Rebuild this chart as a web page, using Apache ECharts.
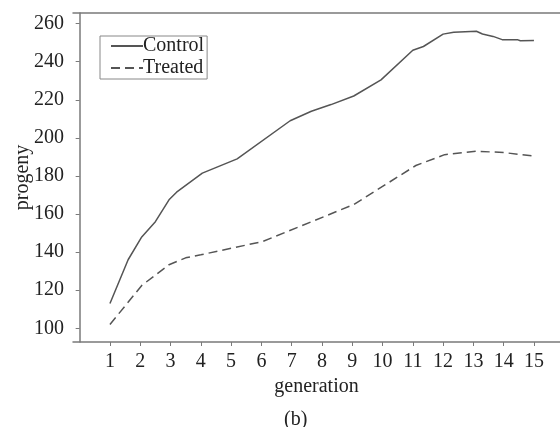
<!DOCTYPE html>
<html>
<head>
<meta charset="utf-8">
<script src="https://cdn.jsdelivr.net/npm/echarts@6/dist/echarts.min.js"></script>
<style>html,body{margin:0;padding:0;background:#fff}#c{width:560px;height:427px}</style>
</head>
<body>
<div id="c"></div>
<script>
// generation positions and progeny values
var controlX = [1.0, 1.6, 2.05, 2.5, 2.95, 3.2, 4.05, 5.2, 6.95, 7.65, 8.3, 9.05, 9.95, 11.0, 11.35, 12.0, 12.35, 13.1, 13.3, 13.65, 13.95, 14.45, 14.55, 15.0];
var controlY = [113, 136, 148, 156, 167.5, 171.5, 181.5, 189, 209, 214, 217.5, 222, 230.5, 246, 248, 254.5, 255.5, 256, 254.6, 253.3, 251.6, 251.6, 251, 251.1];
var treatedX = [1.0, 2.05, 2.95, 3.5, 4.0, 6.05, 9.05, 11.1, 12.05, 13.1, 14.0, 15.0];
var treatedY = [102, 122.5, 133.4, 137, 138.6, 145.6, 165, 185.5, 191.2, 193, 192.3, 190.5];
var xTicks = [1, 2, 3, 4, 5, 6, 7, 8, 9, 10, 11, 12, 13, 14, 15];
var yTicks = [100, 120, 140, 160, 180, 200, 220, 240, 260];
var seriesNames = ['Control', 'Treated'];

function pairs(xs, ys) { return xs.map(function (x, i) { return [x, ys[i]]; }); }

var FONT = 'Liberation Serif';
var TXT = '#222';
var AX = '#7a7a7a';

var chart = echarts.init(document.getElementById('c'), null, { renderer: 'canvas' });
chart.setOption({
  animation: false,
  backgroundColor: '#fff',
  title: {
    text: '(b)', left: 279, top: 405,
    textStyle: { fontFamily: FONT, fontSize: 20, fontWeight: 'normal', color: TXT }
  },
  legend: {
    orient: 'vertical', left: 100, top: 36,
    padding: [0, 3, 1, 10], itemGap: 2, itemWidth: 32, itemHeight: 14,
    borderColor: '#888', borderWidth: 1,
    itemStyle: { opacity: 0 },
    textStyle: { fontFamily: FONT, fontSize: 20, color: TXT, padding: [0, 0, 0, -5] },
    data: seriesNames
  },
  grid: { left: 73, right: 0, top: 13, bottom: 85, containLabel: false, outerBoundsMode: 'none' },
  xAxis: [{
    type: 'value', min: -0.22, max: 15.86,
    name: 'generation', nameLocation: 'middle', nameGap: 35, nameMoveOverlap: false,
    nameTextStyle: { fontFamily: FONT, fontSize: 20, color: TXT },
    axisLine: { lineStyle: { color: AX, width: 1.5 } },
    axisTick: { show: true, length: 4, customValues: xTicks, lineStyle: { color: AX } },
    axisLabel: { customValues: xTicks, margin: 10, fontFamily: FONT, fontSize: 20, color: TXT },
    splitLine: { show: false }
  }, {
    type: 'value', position: 'top', min: -0.22, max: 15.86,
    axisLine: { show: true, onZero: false, lineStyle: { color: AX, width: 1.5 } },
    axisTick: { show: false }, axisLabel: { show: false }, splitLine: { show: false }
  }],
  yAxis: {
    type: 'value', min: 92.8, max: 265.6,
    name: 'progeny', nameLocation: 'middle', nameGap: 40, nameRotate: 90, nameMoveOverlap: false,
    nameTextStyle: { fontFamily: FONT, fontSize: 20, color: TXT },
    axisLine: { show: true, lineStyle: { color: AX, width: 1.5 } },
    axisTick: { show: true, length: 4, customValues: yTicks, lineStyle: { color: AX } },
    axisLabel: { customValues: yTicks, margin: 9, fontFamily: FONT, fontSize: 20, color: TXT },
    splitLine: { show: false }
  },
  series: [{
    name: seriesNames[0], type: 'line', xAxisIndex: 0, symbol: 'none',
    data: pairs(controlX, controlY),
    lineStyle: { color: '#555', width: 1.5 }, itemStyle: { color: '#555' }
  }, {
    name: seriesNames[1], type: 'line', xAxisIndex: 0, symbol: 'none',
    data: pairs(treatedX, treatedY),
    lineStyle: { color: '#555', width: 1.5, type: [9, 5] }, itemStyle: { color: '#555' }
  }]
});
</script>
</body>
</html>
